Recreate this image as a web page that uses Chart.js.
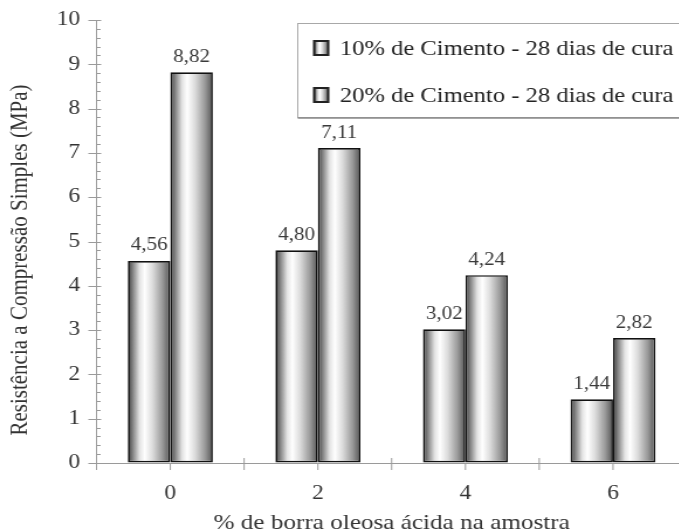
<!DOCTYPE html>
<html>
<head>
<meta charset="utf-8">
<script src="https://cdn.jsdelivr.net/npm/chart.js@4/dist/chart.umd.min.js"></script>
<style>
  html, body { margin: 0; padding: 0; background: #fff; overflow: hidden; }
  #wrap { width: 679px; height: 532px; overflow: hidden; }
  /* the figure is drawn slightly narrow and widened horizontally */
  #c { display: block; transform: scaleX(1.17); transform-origin: 0 0; }
</style>
</head>
<body>
<div id="wrap"><canvas id="c" width="600" height="532"></canvas></div>
<script>
// Percent of acidic oily sludge in the sample
const categories = ['0', '2', '4', '6'];
// Unconfined compressive strength (MPa) after 28 days of curing
const cement10 = [4.56, 4.80, 3.02, 1.44];
const cement20 = [8.82, 7.11, 4.24, 2.82];
const seriesLabels = ['10% de Cimento - 28 dias de cura', '20% de Cimento - 28 dias de cura'];
const yTickValues = [0, 1, 2, 3, 4, 5, 6, 7, 8, 9, 10];
const yTitle = 'Resistência a Compressão Simples (MPa)';
const xTitle = '% de borra oleosa ácida na amostra';

const SERIF = "'Liberation Serif', 'Times New Roman', serif";
const AXIS_GREY = '#9a9a9a';

function cylinderGradient(ctx, x0, x1) {
  const g = ctx.createLinearGradient(x0, 0, x1, 0);
  g.addColorStop(0.00, '#3a3a3a');
  g.addColorStop(0.10, '#7a7a7a');
  g.addColorStop(0.28, '#e4e4e4');
  g.addColorStop(0.40, '#ffffff');
  g.addColorStop(0.58, '#dcdcdc');
  g.addColorStop(0.82, '#989898');
  g.addColorStop(1.00, '#545454');
  return g;
}

// Shade each bar like a cylinder (each bar gets its own options object)
const cylinderShade = {
  id: 'cylinderShade',
  beforeDatasetsDraw(chart) {
    const ctx = chart.ctx;
    chart.data.datasets.forEach((ds, i) => {
      chart.getDatasetMeta(i).data.forEach(bar => {
        const g = cylinderGradient(ctx, bar.x - bar.width / 2, bar.x + bar.width / 2);
        bar.options = Object.assign(Object.create(Object.getPrototypeOf(bar.options)), bar.options, { backgroundColor: g });
      });
    });
  }
};

// Value labels above the bars, with a decimal comma
const valueLabels = {
  id: 'valueLabels',
  afterDatasetsDraw(chart) {
    const ctx = chart.ctx;
    ctx.save();
    ctx.font = '18px ' + SERIF;
    ctx.fillStyle = '#3a3a3a';
    ctx.textAlign = 'center';
    ctx.textBaseline = 'alphabetic';
    chart.data.datasets.forEach((ds, i) => {
      chart.getDatasetMeta(i).data.forEach((bar, j) => {
        const txt = ds.data[j].toFixed(2).replace('.', ',');
        ctx.fillText(txt, bar.x, bar.y - 10.5);
      });
    });
    ctx.restore();
  }
};

// Major/minor tick marks on both axes
const tickMarks = {
  id: 'tickMarks',
  afterDraw(chart) {
    const ctx = chart.ctx;
    const y = chart.scales.y, x = chart.scales.x;
    const ax = y.right;
    const y0 = y.getPixelForValue(0);
    ctx.save();
    ctx.strokeStyle = AXIS_GREY;
    ctx.lineWidth = 1;
    ctx.beginPath();
    for (let k = 0; k <= 50; k++) {
      const py = Math.round(y.getPixelForValue(k / 5)) + 0.5;
      if (k % 5 === 0) { ctx.moveTo(ax - 7, py); ctx.lineTo(ax + 4, py); }
      else { ctx.moveTo(ax, py); ctx.lineTo(ax + 3.5, py); }
    }
    const n = categories.length;
    const cw = (x.right - x.left) / n;
    for (let i = 0; i <= n; i++) {
      const px = x.left + i * cw;
      ctx.moveTo(px, y0 - 5); ctx.lineTo(px, y0 + 7);
    }
    for (let i = 0; i < n; i++) {
      const px = x.getPixelForValue(i);
      ctx.moveTo(px, y0 + 1); ctx.lineTo(px, y0 + 7);
    }
    ctx.stroke();
    ctx.restore();
  }
};

// Axis titles
const axisTitles = {
  id: 'axisTitles',
  afterDraw(chart) {
    const ctx = chart.ctx;
    ctx.save();
    ctx.fillStyle = '#333';
    ctx.textAlign = 'center';
    ctx.textBaseline = 'alphabetic';
    const x = chart.scales.x;
    ctx.font = '21.5px ' + SERIF;
    ctx.fillText(xTitle, (x.left + x.right) / 2, 529);
    ctx.font = '21px ' + SERIF;
    ctx.translate(23, 260);
    ctx.rotate(-Math.PI / 2);
    ctx.fillText(yTitle, 0, 0);
    ctx.restore();
  }
};

// Boxed legend in the upper right
const boxLegend = {
  id: 'boxLegend',
  afterDraw(chart) {
    const ctx = chart.ctx;
    ctx.save();
    const bx = 254.5, by = 23.5, bw = 400, bh = 94;
    ctx.fillStyle = '#fff';
    ctx.fillRect(bx, by, bw, bh);
    ctx.strokeStyle = '#a8a8a8';
    ctx.lineWidth = 1;
    ctx.strokeRect(bx, by, bw, bh);
    ctx.strokeStyle = '#8a8a8a';
    ctx.lineWidth = 1.5;
    ctx.beginPath();
    ctx.moveTo(bx, by + bh + 0.5); ctx.lineTo(bx + bw, by + bh + 0.5);
    ctx.stroke();
    const rows = [55, 102];
    ctx.font = '21px ' + SERIF;
    ctx.textAlign = 'left';
    ctx.textBaseline = 'alphabetic';
    seriesLabels.forEach((lab, i) => {
      const base = rows[i];
      const mx = 268.5, my = base - 14, mw = 12, mh = 14;
      ctx.fillStyle = cylinderGradient(ctx, mx, mx + mw);
      ctx.fillRect(mx, my, mw, mh);
      ctx.strokeStyle = '#222';
      ctx.lineWidth = 2;
      ctx.strokeRect(mx, my, mw, mh);
      ctx.fillStyle = '#222';
      ctx.fillText(lab, 290.5, base);
    });
    ctx.restore();
  }
};

const barStyle = {
  categoryPercentage: 0.576,
  barPercentage: 1.0,
  borderColor: '#111',
  borderWidth: 1.7,
  borderSkipped: false,
  backgroundColor: '#cccccc'
};

new Chart(document.getElementById('c'), {
  type: 'bar',
  data: {
    labels: categories,
    datasets: [
      Object.assign({ label: seriesLabels[0], data: cement10 }, barStyle),
      Object.assign({ label: seriesLabels[1], data: cement20 }, barStyle)
    ]
  },
  options: {
    responsive: false,
    animation: false,
    devicePixelRatio: 1,
    layout: { padding: { left: 0, right: 13, top: 20, bottom: 0 } },
    plugins: {
      legend: { display: false },
      tooltip: { enabled: false },
      title: { display: false },
      colors: { enabled: false }
    },
    scales: {
      x: {
        type: 'category',
        offset: true,
        grid: { offset: true, drawOnChartArea: false, drawTicks: true, tickLength: 8, color: 'rgba(0,0,0,0)' },
        border: { display: true, color: AXIS_GREY, width: 1 },
        ticks: { font: { family: SERIF, size: 20 }, color: '#333', padding: 11 },
        afterFit(scale) { scale.height = 69; }
      },
      y: {
        min: 0,
        max: 10,
        afterBuildTicks(scale) { scale.ticks = yTickValues.map(v => ({ value: v })); },
        grid: { drawOnChartArea: false, drawTicks: true, tickLength: 7, color: 'rgba(0,0,0,0)' },
        border: { display: true, color: AXIS_GREY, width: 1 },
        ticks: { font: { family: SERIF, size: 20 }, color: '#333', padding: 7 },
        afterFit(scale) { scale.width = 82.5; }
      }
    }
  },
  plugins: [cylinderShade, valueLabels, tickMarks, axisTitles, boxLegend]
});
</script>
</body>
</html>
